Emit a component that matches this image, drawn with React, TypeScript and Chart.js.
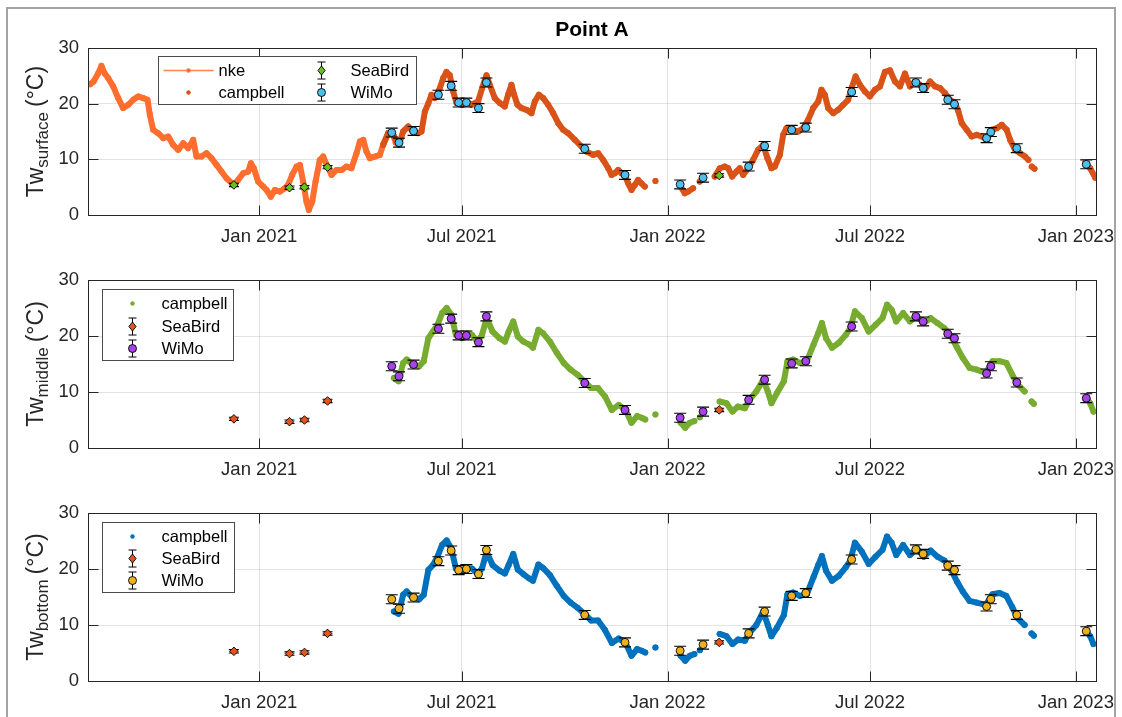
import React, { useEffect, useRef } from 'react';
import Chart from 'chart.js/auto';

// ---------------- data (days counted from 2021-01-01) ----------------
const xStartDate = '2020-08-01';
const xEndDate = '2023-01-19';
const xTickDates = ['2021-01-01', '2021-07-01', '2022-01-01', '2022-07-01', '2023-01-01'];
const xTickLabels = ['Jan 2021', 'Jul 2021', 'Jan 2022', 'Jul 2022', 'Jan 2023'];
const yTickValues = [0, 10, 20, 30];

const nkeDays = [
  -151, -148, -144, -141, -138, -135, -130.5, -126, -121.6, -117,
  -112.6, -108.2, -103.7, -99.8, -97.7, -94.8, -90.3, -85.8, -81.3, -76.9,
  -72.4, -67.9, -63.5, -59, -56, -51.5, -47.1, -42.6, -38.1, -33.7,
  -29.2, -22.6, -18.8, -14.3, -9.8, -7.4, -4.8, -0.9, 3.6, 6.6,
  10.4, 14, 18.5, 22.9, 25.9, 29.5, 33.4, 36.4, 39.3, 42.3,
  44.4, 47.4, 50.4, 54.2, 57.2, 61.1, 64.7, 69.1, 73.6, 78.1,
  82.5, 87, 90, 93, 95.9, 98.9, 103.4, 107.9, 110.8, 115.3,
  119.8, 122,
];
const nkeTemp = [
  23.5, 24.0, 25.4, 26.8, 25.4, 24.6, 23.1, 21.0, 19.2, 19.8,
  20.7, 21.3, 21.0, 20.7, 18.0, 15.3, 14.7, 13.8, 14.1, 12.6,
  11.7, 12.9, 12.0, 13.5, 10.5, 10.5, 11.1, 10.2, 9.0, 7.8,
  6.6, 5.4, 6.3, 7.5, 7.8, 9.3, 8.4, 6.0, 5.1, 4.5,
  3.3, 4.5, 4.2, 4.8, 5.4, 7.2, 8.7, 9.0, 6.0, 2.4,
  0.9, 2.4, 6.0, 9.9, 10.5, 8.7, 7.2, 8.1, 8.1, 8.7,
  8.4, 11.1, 13.2, 13.5, 11.4, 10.2, 10.5, 10.8, 12.6, 14.7,
  14.4, 13.0,
];

// null temperature = gap in the record
const campbellSurfaceDays = [
  110.8, 115.3, 119.8, 124.9, 128.7, 133.2, 137.7, 142.1, 145.1, 148.1,
  151.1, 154, 157, 161.5, 164.5, 167.4, 170.4, 173.4, 176.4, 180.8,
  185.3, 189.8, 195.7, 199.3, 203.2, 206.1, 210.6, 215.1, 219.5, 222.5,
  225.5, 227.9, 230.9, 234.5, 238.9, 243.4, 246.4, 250, 253.9, 258.3,
  262.8, 267.3, 271.7, 276.2, 282.2, 288.2, 292.6, 298.6, 303, 307.5,
  312, 315, 317.9, 320.9, 323.9, 327.4, 329.8, 332.8, 335.8, 338.7,
  341.7, 344.7,
  349,
  354.2,
  365,
  376.9, 380.4, 383.4, 387.9,
  391,
  393.8, 396.8,
  402,
  407.2, 411.7, 416.2, 419.2, 422.8, 426.6, 429.6, 432.6, 437.1, 441.5,
  446, 450.5, 454.3, 457.9, 460.9, 465.4, 468.4, 471.3, 475.8, 481.8,
  486.2, 490.7, 495.2, 499.7, 502.6, 505.6, 508.6, 513.1, 517.6, 522,
  526.5, 529.5, 533.1, 536.9, 541.4, 545.9, 550.4, 554.9, 559.3, 563.8,
  568.3, 572.8, 577.2, 581.7, 586.2, 590.7, 595.1, 599.6, 604.1, 608.6,
  613, 617.5, 622, 625, 628, 632.4, 636.9, 641.4, 645.9, 650.3,
  654.8, 659.3, 663.8, 668.2, 671.2, 675.7, 680.2, 684.6, 687.6,
  689,
  690.6, 693,
  715,
  738.3, 742.8, 747.3,
];
const campbellSurfaceTemp = [
  12.6, 14.7, 14.4, 12.6, 15.0, 15.9, 15.0, 14.7, 15.0, 18.6,
  20.0, 21.6, 21.0, 22.8, 24.6, 25.7, 25.1, 22.2, 20.1, 19.8,
  20.4, 19.8, 20.4, 22.8, 25.1, 23.4, 21.0, 20.1, 19.5, 21.6,
  23.4, 21.6, 19.8, 19.2, 18.9, 18.3, 20.4, 21.6, 21.0, 19.8,
  18.3, 16.5, 15.3, 14.7, 13.5, 12.3, 11.4, 10.8, 11.1, 9.9,
  8.4, 7.2, 7.5, 8.1, 7.5, 6.9, 5.7, 4.5, 5.4, 6.3,
  5.7, 5.1,
  null,
  6.1,
  null,
  5.1, 3.9, 4.2, 4.8,
  null,
  6.0, 6.6,
  null,
  6.9, 8.4, 8.7, 8.4, 6.9, 7.8, 8.4, 7.2, 8.4, 9.9,
  11.7, 12.6, 10.2, 8.4, 8.7, 10.8, 14.4, 15.6, 15.3, 15.0,
  15.6, 17.1, 19.2, 20.4, 22.5, 21.6, 19.2, 18.3, 18.9, 19.8,
  20.7, 22.8, 24.9, 23.4, 22.2, 21.3, 22.5, 23.1, 25.7, 26.0,
  24.0, 23.1, 25.4, 23.1, 24.0, 23.4, 22.5, 24.0, 23.1, 22.8,
  21.9, 20.7, 20.1, 18.6, 16.5, 15.3, 14.1, 14.4, 14.1, 13.5,
  15.3, 15.6, 16.2, 15.3, 13.5, 11.7, 11.1, 10.5, 9.9,
  null,
  8.7, 8.3,
  null,
  9.3, 8.4, 6.7,
];

// middle and bottom loggers were read at the same dates
const campbellDepthDays = [
  120.4, 124.6, 128.7, 131.9, 136.9, 143, 147.1, 151.2, 155.3, 159.4,
  163.5, 167.6, 171.7, 175.8, 181.1, 186.1, 190.1, 195.1, 199.2, 203.3,
  208.6, 214.8, 219.7, 223, 227.1, 231.2, 236.1, 241.4, 244.7, 249.6,
  253.7, 259.9, 266, 272.2, 278.3, 284.5, 290.6, 296.8, 302.9, 309.1,
  315.2, 321.4, 327.5, 332.8, 337.8, 341.9, 345.1,
  350,
  354.2,
  365,
  376.7, 380.8, 384.9, 389,
  391.5,
  393.9,
  402,
  411.6, 417.7, 423, 428, 434.1, 438.2, 444.4, 450.5, 454.6, 457.9,
  462.8, 469, 472.2, 477.1, 483.3, 489.5, 495.6, 499.7, 503, 506.7,
  512, 518.2, 524.3, 528.4, 532.5, 538.7, 544.8, 551, 557.1, 561.2,
  565.3, 569.4, 575.6, 581.7, 587.9, 594, 600.2, 606.3, 612.5, 618.6,
  623.9, 628.9, 635, 641.2, 649.4, 655.5, 661.7, 667.8, 673.1, 678.1,
  684.2,
  687,
  690.4, 692.4,
  715,
  739.6, 742.8, 745.7,
];
const campbellMiddleTemp = [
  12.5, 11.9, 15.2, 15.8, 14.9, 14.6, 15.5, 19.6, 20.8, 22.0,
  24.1, 25.0, 23.8, 20.2, 19.6, 20.5, 20.2, 19.0, 20.2, 23.2,
  20.8, 19.6, 19.0, 20.8, 22.6, 19.9, 19.0, 18.5, 17.9, 21.1,
  20.5, 19.0, 17.0, 15.2, 14.0, 13.1, 11.9, 10.7, 10.7, 9.2,
  6.8, 7.7, 6.8, 4.5, 5.7, 5.4, 5.1,
  null,
  6.0,
  null,
  4.5, 3.6, 4.5, 4.8,
  null,
  5.5,
  null,
  8.3, 8.0, 6.5, 7.4, 7.1, 8.6, 10.1, 12.2, 10.1, 8.0,
  9.8, 11.9, 15.5, 15.8, 15.2, 15.5, 18.5, 20.5, 22.3, 19.6,
  17.9, 18.8, 20.2, 21.4, 24.4, 23.2, 20.8, 22.0, 23.2, 25.6,
  24.7, 22.6, 24.1, 22.6, 23.5, 22.3, 23.2, 22.3, 21.4, 19.9,
  17.9, 16.1, 14.3, 14.0, 13.4, 15.5, 15.5, 15.2, 13.1, 11.3,
  10.1,
  null,
  8.3, 7.9,
  null,
  8.9, 8.0, 6.5,
];
const campbellBottomTemp = [
  12.4, 12.0, 15.4, 16.0, 14.9, 14.6, 15.4, 19.8, 20.7, 22.2,
  24.3, 25.1, 23.7, 20.1, 19.5, 20.2, 20.1, 19.2, 20.1, 23.1,
  20.7, 19.7, 19.2, 20.7, 22.7, 19.9, 19.1, 18.3, 17.9, 20.8,
  20.2, 18.9, 17.0, 15.2, 14.0, 13.1, 12.0, 10.8, 10.8, 9.1,
  6.8, 7.6, 6.8, 4.5, 5.7, 5.4, 5.1,
  null,
  6.0,
  null,
  4.5, 3.6, 4.5, 4.8,
  null,
  5.5,
  null,
  8.4, 8.0, 6.6, 7.4, 7.2, 8.6, 10.0, 12.4, 10.0, 8.0,
  9.5, 11.8, 15.5, 15.8, 15.2, 15.5, 18.6, 20.7, 22.3, 19.7,
  17.9, 18.8, 20.3, 21.5, 24.7, 23.1, 20.9, 22.2, 23.4, 25.8,
  24.7, 22.5, 24.3, 22.5, 23.7, 22.2, 23.3, 22.2, 21.5, 19.8,
  17.7, 16.0, 14.3, 14.0, 13.6, 15.5, 15.7, 15.2, 13.2, 11.2,
  10.0,
  null,
  8.5, 8.1,
  null,
  8.8, 8.0, 6.6,
];

const seaBirdDays = [-22.6, 27.1, 40.5, 61.1, 411.2];
const seaBirdSurface = [5.4, 4.9, 5.0, 8.6, 7.1];
const seaBirdMiddle = [5.2, 4.7, 5.0, 8.4, 6.8];
const seaBirdBottom = [5.3, 4.9, 5.1, 8.5, 6.9];
const SEABIRD_ERR = 0.3;

const wimoDays = [
  118.5, 125, 138, 160.2, 171.6, 178.3, 185.2, 196, 203.1, 291,
  327, 376.3, 396.8, 437.5, 451.8, 476, 488.6, 529.6, 587, 593.5,
  615.5, 621.5, 650.2, 654, 677.2, 739.3,
];
const wimoSurface = [
  14.8, 13.0, 15.1, 21.6, 23.2, 20.2, 20.2, 19.2, 23.8, 11.9,
  7.2, 5.5, 6.7, 8.7, 12.4, 15.3, 15.7, 22.1, 23.8, 22.8,
  20.7, 19.9, 13.8, 14.9, 12.0, 9.1,
];
const wimoMiddle = [
  14.6, 12.8, 14.9, 21.3, 23.1, 20.1, 20.1, 18.9, 23.5, 11.6,
  6.8, 5.4, 6.5, 8.6, 12.2, 15.1, 15.5, 21.7, 23.5, 22.6,
  20.4, 19.6, 13.3, 14.6, 11.7, 8.9,
];
const wimoBottom = [
  14.6, 12.9, 14.9, 21.4, 23.3, 19.8, 20.0, 19.1, 23.4, 11.8,
  6.9, 5.4, 6.5, 8.5, 12.4, 15.2, 15.7, 21.7, 23.5, 22.7,
  20.6, 19.8, 13.3, 14.6, 11.8, 8.9,
];
const WIMO_ERR = 0.8;

// ---------------- styles ----------------
const FONT = "'Liberation Sans', Arial, Helvetica, sans-serif";
const TEXT = '#262626';
const GRID = 'rgba(38,38,38,0.13)';
const NKE_COLOR = '#FF6E2E';
const CAMPBELL_SURFACE_COLOR = '#D95319';
const CAMPBELL_MIDDLE_COLOR = '#77AC30';
const CAMPBELL_BOTTOM_COLOR = '#0072BD';
const SEABIRD_SURFACE_COLOR = '#6BBF22';
const SEABIRD_DEPTH_COLOR = '#E8531B';
const WIMO_SURFACE_COLOR = '#4DBEEE';
const WIMO_MIDDLE_COLOR = '#A742EC';
const WIMO_BOTTOM_COLOR = '#EDB120';

const DAY0 = Date.UTC(2021, 0, 1);
const toDay = (s: string) => {
  const [y, m, d] = s.split('-').map(Number);
  return (Date.UTC(y, m - 1, d) - DAY0) / 86400000;
};
const pts = (days: number[], vals: (number | null)[]) => days.map((d, i) => ({ x: d, y: vals[i] }));

const lineSet = (label: string, days: number[], vals: (number | null)[], color: string, order: number) => ({
  label,
  data: pts(days, vals),
  showLine: true,
  spanGaps: false,
  borderColor: color,
  backgroundColor: color,
  borderWidth: 6,
  borderCapStyle: 'round',
  borderJoinStyle: 'round',
  pointRadius: 3,
  pointBorderWidth: 0,
  pointBackgroundColor: color,
  tension: 0,
  order,
});
const markerSet = (label: string, days: number[], vals: number[], color: string, style: string, err: number, cap: number, order: number) => ({
  label,
  data: pts(days, vals),
  showLine: false,
  pointStyle: style,
  pointRadius: style === 'circle' ? 4 : 4.3,
  pointBackgroundColor: color,
  pointBorderColor: '#000',
  pointBorderWidth: 0.9,
  errHalf: err,
  capHalf: cap,
  order,
});

const PANELS = [
  {
    key: 'surface', canvasTop: 0, canvasHeight: 250, padTop: 17.8, xAxisHeight: 35, title: 'Point A', sub: 'surface',
    datasets: [
      markerSet('WiMo', wimoDays, wimoSurface, WIMO_SURFACE_COLOR, 'circle', WIMO_ERR, 6, 0),
      markerSet('SeaBird', seaBirdDays, seaBirdSurface, SEABIRD_SURFACE_COLOR, 'rectRot', SEABIRD_ERR, 5, 1),
      lineSet('campbell', campbellSurfaceDays, campbellSurfaceTemp, CAMPBELL_SURFACE_COLOR, 2),
      lineSet('nke', nkeDays, nkeTemp, NKE_COLOR, 3),
    ],
    legend: {
      dx: 70, dy: 8, w: 258, h: 48,
      items: [
        { icon: 'lineDot', color: NKE_COLOR, label: 'nke', ix: 30, tx: 60, ry: 14 },
        { icon: 'dot', color: CAMPBELL_SURFACE_COLOR, label: 'campbell', ix: 30, tx: 60, ry: 36 },
        { icon: 'errDiamond', color: SEABIRD_SURFACE_COLOR, label: 'SeaBird', ix: 163, tx: 192, ry: 14 },
        { icon: 'errCircle', color: WIMO_SURFACE_COLOR, label: 'WiMo', ix: 163, tx: 192, ry: 36 },
      ],
    },
  },
  {
    key: 'middle', canvasTop: 250, canvasHeight: 233, padTop: 30, xAxisHeight: 35, title: '', sub: 'middle',
    datasets: [
      markerSet('WiMo', wimoDays, wimoMiddle, WIMO_MIDDLE_COLOR, 'circle', WIMO_ERR, 6, 0),
      markerSet('SeaBird', seaBirdDays, seaBirdMiddle, SEABIRD_DEPTH_COLOR, 'rectRot', SEABIRD_ERR, 5, 1),
      lineSet('campbell', campbellDepthDays, campbellMiddleTemp, CAMPBELL_MIDDLE_COLOR, 2),
    ],
    legend: {
      dx: 14, dy: 9, w: 131, h: 71,
      items: [
        { icon: 'dot', color: CAMPBELL_MIDDLE_COLOR, label: 'campbell', ix: 30, tx: 59, ry: 14 },
        { icon: 'errDiamond', color: SEABIRD_DEPTH_COLOR, label: 'SeaBird', ix: 30, tx: 59, ry: 37 },
        { icon: 'errCircle', color: WIMO_MIDDLE_COLOR, label: 'WiMo', ix: 30, tx: 59, ry: 59 },
      ],
    },
  },
  {
    key: 'bottom', canvasTop: 483, canvasHeight: 234, padTop: 30, xAxisHeight: 36, title: '', sub: 'bottom',
    datasets: [
      markerSet('WiMo', wimoDays, wimoBottom, WIMO_BOTTOM_COLOR, 'circle', WIMO_ERR, 6, 0),
      markerSet('SeaBird', seaBirdDays, seaBirdBottom, SEABIRD_DEPTH_COLOR, 'rectRot', SEABIRD_ERR, 5, 1),
      lineSet('campbell', campbellDepthDays, campbellBottomTemp, CAMPBELL_BOTTOM_COLOR, 2),
    ],
    legend: {
      dx: 14, dy: 9, w: 132, h: 70,
      items: [
        { icon: 'dot', color: CAMPBELL_BOTTOM_COLOR, label: 'campbell', ix: 30, tx: 59, ry: 14 },
        { icon: 'errDiamond', color: SEABIRD_DEPTH_COLOR, label: 'SeaBird', ix: 30, tx: 59, ry: 36 },
        { icon: 'errCircle', color: WIMO_BOTTOM_COLOR, label: 'WiMo', ix: 30, tx: 59, ry: 58 },
      ],
    },
  },
];

function drawErrIcon(ctx: CanvasRenderingContext2D, x: number, y: number, color: string, shape: string) {
  ctx.strokeStyle = '#000';
  ctx.lineWidth = 1;
  ctx.beginPath();
  ctx.moveTo(x, y - 8.5); ctx.lineTo(x, y + 8.5);
  ctx.moveTo(x - 4, y - 8.5); ctx.lineTo(x + 4, y - 8.5);
  ctx.moveTo(x - 4, y + 8.5); ctx.lineTo(x + 4, y + 8.5);
  ctx.stroke();
  ctx.fillStyle = color;
  ctx.lineWidth = 0.9;
  ctx.beginPath();
  if (shape === 'circle') {
    ctx.arc(x, y, 4, 0, Math.PI * 2);
  } else {
    ctx.moveTo(x, y - 4.5); ctx.lineTo(x + 3.6, y); ctx.lineTo(x, y + 4.5); ctx.lineTo(x - 3.6, y); ctx.closePath();
  }
  ctx.fill();
  ctx.stroke();
}

function buildConfig(spec: any) {
  const decor = {
    id: 'matlabDecor',
    beforeDatasetDraw(chart: any, args: any) {
      const ds = chart.data.datasets[args.index];
      if (!ds.errHalf) return;
      const { ctx } = chart;
      const xs = chart.scales.x, ys = chart.scales.y;
      ctx.save();
      ctx.strokeStyle = '#000';
      ctx.lineWidth = 1.1;
      ds.data.forEach((p: any) => {
        if (p.y == null) return;
        const px = xs.getPixelForValue(p.x);
        const y1 = ys.getPixelForValue(p.y - ds.errHalf);
        const y2 = ys.getPixelForValue(p.y + ds.errHalf);
        ctx.beginPath();
        ctx.moveTo(px, y1); ctx.lineTo(px, y2);
        ctx.moveTo(px - ds.capHalf, y1); ctx.lineTo(px + ds.capHalf, y1);
        ctx.moveTo(px - ds.capHalf, y2); ctx.lineTo(px + ds.capHalf, y2);
        ctx.stroke();
      });
      ctx.restore();
    },
    afterDraw(chart: any) {
      const { ctx, chartArea } = chart;
      const { left, top, right, bottom } = chartArea;
      const xs = chart.scales.x, ys = chart.scales.y;
      ctx.save();
      // axes box + inward ticks
      ctx.strokeStyle = TEXT;
      ctx.lineWidth = 1;
      const L = Math.round(left) + 0.5, T = Math.round(top) + 0.5, R = Math.round(right) + 0.5, B = Math.round(bottom) + 0.5;
      ctx.strokeRect(L, T, R - L, B - T);
      ctx.beginPath();
      xTickDates.forEach((d) => {
        const px = Math.round(xs.getPixelForValue(toDay(d))) + 0.5;
        ctx.moveTo(px, B); ctx.lineTo(px, B - 10);
        ctx.moveTo(px, T); ctx.lineTo(px, T + 10);
      });
      yTickValues.forEach((v) => {
        const py = Math.round(ys.getPixelForValue(v)) + 0.5;
        ctx.moveTo(L, py); ctx.lineTo(L + 10, py);
        ctx.moveTo(R, py); ctx.lineTo(R - 10, py);
      });
      ctx.stroke();

      // y label: Tw_{sub} (°C)
      const mainFont = `23px ${FONT}`;
      const subFont = `17px ${FONT}`;
      ctx.font = mainFont;
      const w1 = ctx.measureText('Tw').width;
      const w3 = ctx.measureText('(°C)').width;
      ctx.font = subFont;
      const w2 = ctx.measureText(spec.sub).width;
      const gap = 5;
      const total = w1 + w2 + gap + w3;
      ctx.save();
      ctx.translate(43, (top + bottom) / 2);
      ctx.rotate(-Math.PI / 2);
      ctx.fillStyle = TEXT;
      ctx.textAlign = 'left';
      ctx.textBaseline = 'alphabetic';
      let x0 = -total / 2;
      ctx.font = mainFont; ctx.fillText('Tw', x0, 0); x0 += w1;
      ctx.font = subFont; ctx.fillText(spec.sub, x0, 5); x0 += w2 + gap;
      ctx.font = mainFont; ctx.fillText('(°C)', x0, 0);
      ctx.restore();

      // legend
      const lg = spec.legend;
      const bx = Math.round(left + lg.dx) + 0.5, by = Math.round(top + lg.dy) + 0.5;
      ctx.fillStyle = '#fff';
      ctx.fillRect(bx, by, lg.w, lg.h);
      ctx.strokeStyle = '#4a4a4a';
      ctx.lineWidth = 1;
      ctx.strokeRect(bx, by, lg.w, lg.h);
      ctx.font = `16.5px ${FONT}`;
      ctx.textBaseline = 'middle';
      ctx.textAlign = 'left';
      lg.items.forEach((it: any) => {
        const cx = bx + it.ix, cy = by + it.ry;
        if (it.icon === 'lineDot') {
          ctx.strokeStyle = it.color; ctx.globalAlpha = 0.85; ctx.lineWidth = 1.6;
          ctx.beginPath(); ctx.moveTo(cx - 25, cy); ctx.lineTo(cx + 25, cy); ctx.stroke();
          ctx.globalAlpha = 1;
          ctx.fillStyle = it.color; ctx.beginPath(); ctx.arc(cx, cy, 2.2, 0, Math.PI * 2); ctx.fill();
        } else if (it.icon === 'dot') {
          ctx.fillStyle = it.color; ctx.beginPath(); ctx.arc(cx, cy, 2.2, 0, Math.PI * 2); ctx.fill();
        } else if (it.icon === 'errDiamond') {
          drawErrIcon(ctx, cx, cy, it.color, 'diamond');
        } else {
          drawErrIcon(ctx, cx, cy, it.color, 'circle');
        }
        ctx.fillStyle = '#000';
        ctx.fillText(it.label, bx + it.tx, cy + 1);
      });
      ctx.restore();
    },
  };

  return {
    type: 'scatter',
    data: { datasets: spec.datasets },
    options: {
      animation: false,
      responsive: false,
      devicePixelRatio: 1,
      events: [],
      layout: { padding: { top: spec.padTop, right: 26, left: 0, bottom: 0 } },
      plugins: {
        legend: { display: false },
        tooltip: { enabled: false },
        title: {
          display: !!spec.title,
          text: spec.title,
          color: '#000',
          fullSize: false,
          font: { family: FONT, size: 21, weight: 'bold', lineHeight: 1.2 },
          padding: { top: 0, bottom: 5 },
        },
      },
      scales: {
        x: {
          type: 'linear',
          position: 'bottom',
          bounds: 'data',
          min: toDay(xStartDate),
          max: toDay(xEndDate),
          afterBuildTicks: (s: any) => { s.ticks = xTickDates.map((d) => ({ value: toDay(d) })); },
          afterFit: (s: any) => { s.height = spec.xAxisHeight; s.paddingLeft = 0; s.paddingRight = 0; },
          ticks: {
            autoSkip: false, maxRotation: 0, minRotation: 0, padding: 11, color: TEXT,
            font: { family: FONT, size: 18.5 },
            callback: (v: number) => {
              const i = xTickDates.findIndex((d) => Math.abs(toDay(d) - v) < 0.01);
              return i >= 0 ? xTickLabels[i] : '';
            },
          },
          grid: { color: GRID, lineWidth: 1, drawTicks: false },
          border: { display: false },
        },
        y: {
          type: 'linear',
          bounds: 'data',
          min: 0,
          max: 30,
          afterBuildTicks: (s: any) => { s.ticks = yTickValues.map((v) => ({ value: v })); },
          afterFit: (s: any) => { s.width = 88; s.paddingTop = 0; s.paddingBottom = 0; },
          ticks: { padding: 9, color: TEXT, font: { family: FONT, size: 18.5 } },
          grid: { color: GRID, lineWidth: 1, drawTicks: false },
          border: { display: false },
        },
      },
    },
    plugins: [decor],
  };
}

function Panel({ spec }: { spec: any }) {
  const ref = useRef<HTMLCanvasElement>(null);
  useEffect(() => {
    const chart = new Chart(ref.current as HTMLCanvasElement, buildConfig(spec) as any);
    return () => chart.destroy();
  }, [spec]);
  return (
    <canvas
      ref={ref}
      width={1122}
      height={spec.canvasHeight}
      style={{ position: 'absolute', left: 0, top: spec.canvasTop, width: 1122, height: spec.canvasHeight }}
    />
  );
}

export default function App() {
  return (
    <div style={{ position: 'fixed', left: 0, top: 0, width: 1122, height: 717, background: '#fff', overflow: 'hidden' }}>
      <div
        style={{
          position: 'absolute', left: 6, top: 7, width: 1110, height: 760,
          border: '2px solid #a3a3a3', boxSizing: 'border-box',
        }}
      />
      {PANELS.map((p) => (
        <Panel key={p.key} spec={p} />
      ))}
    </div>
  );
}
